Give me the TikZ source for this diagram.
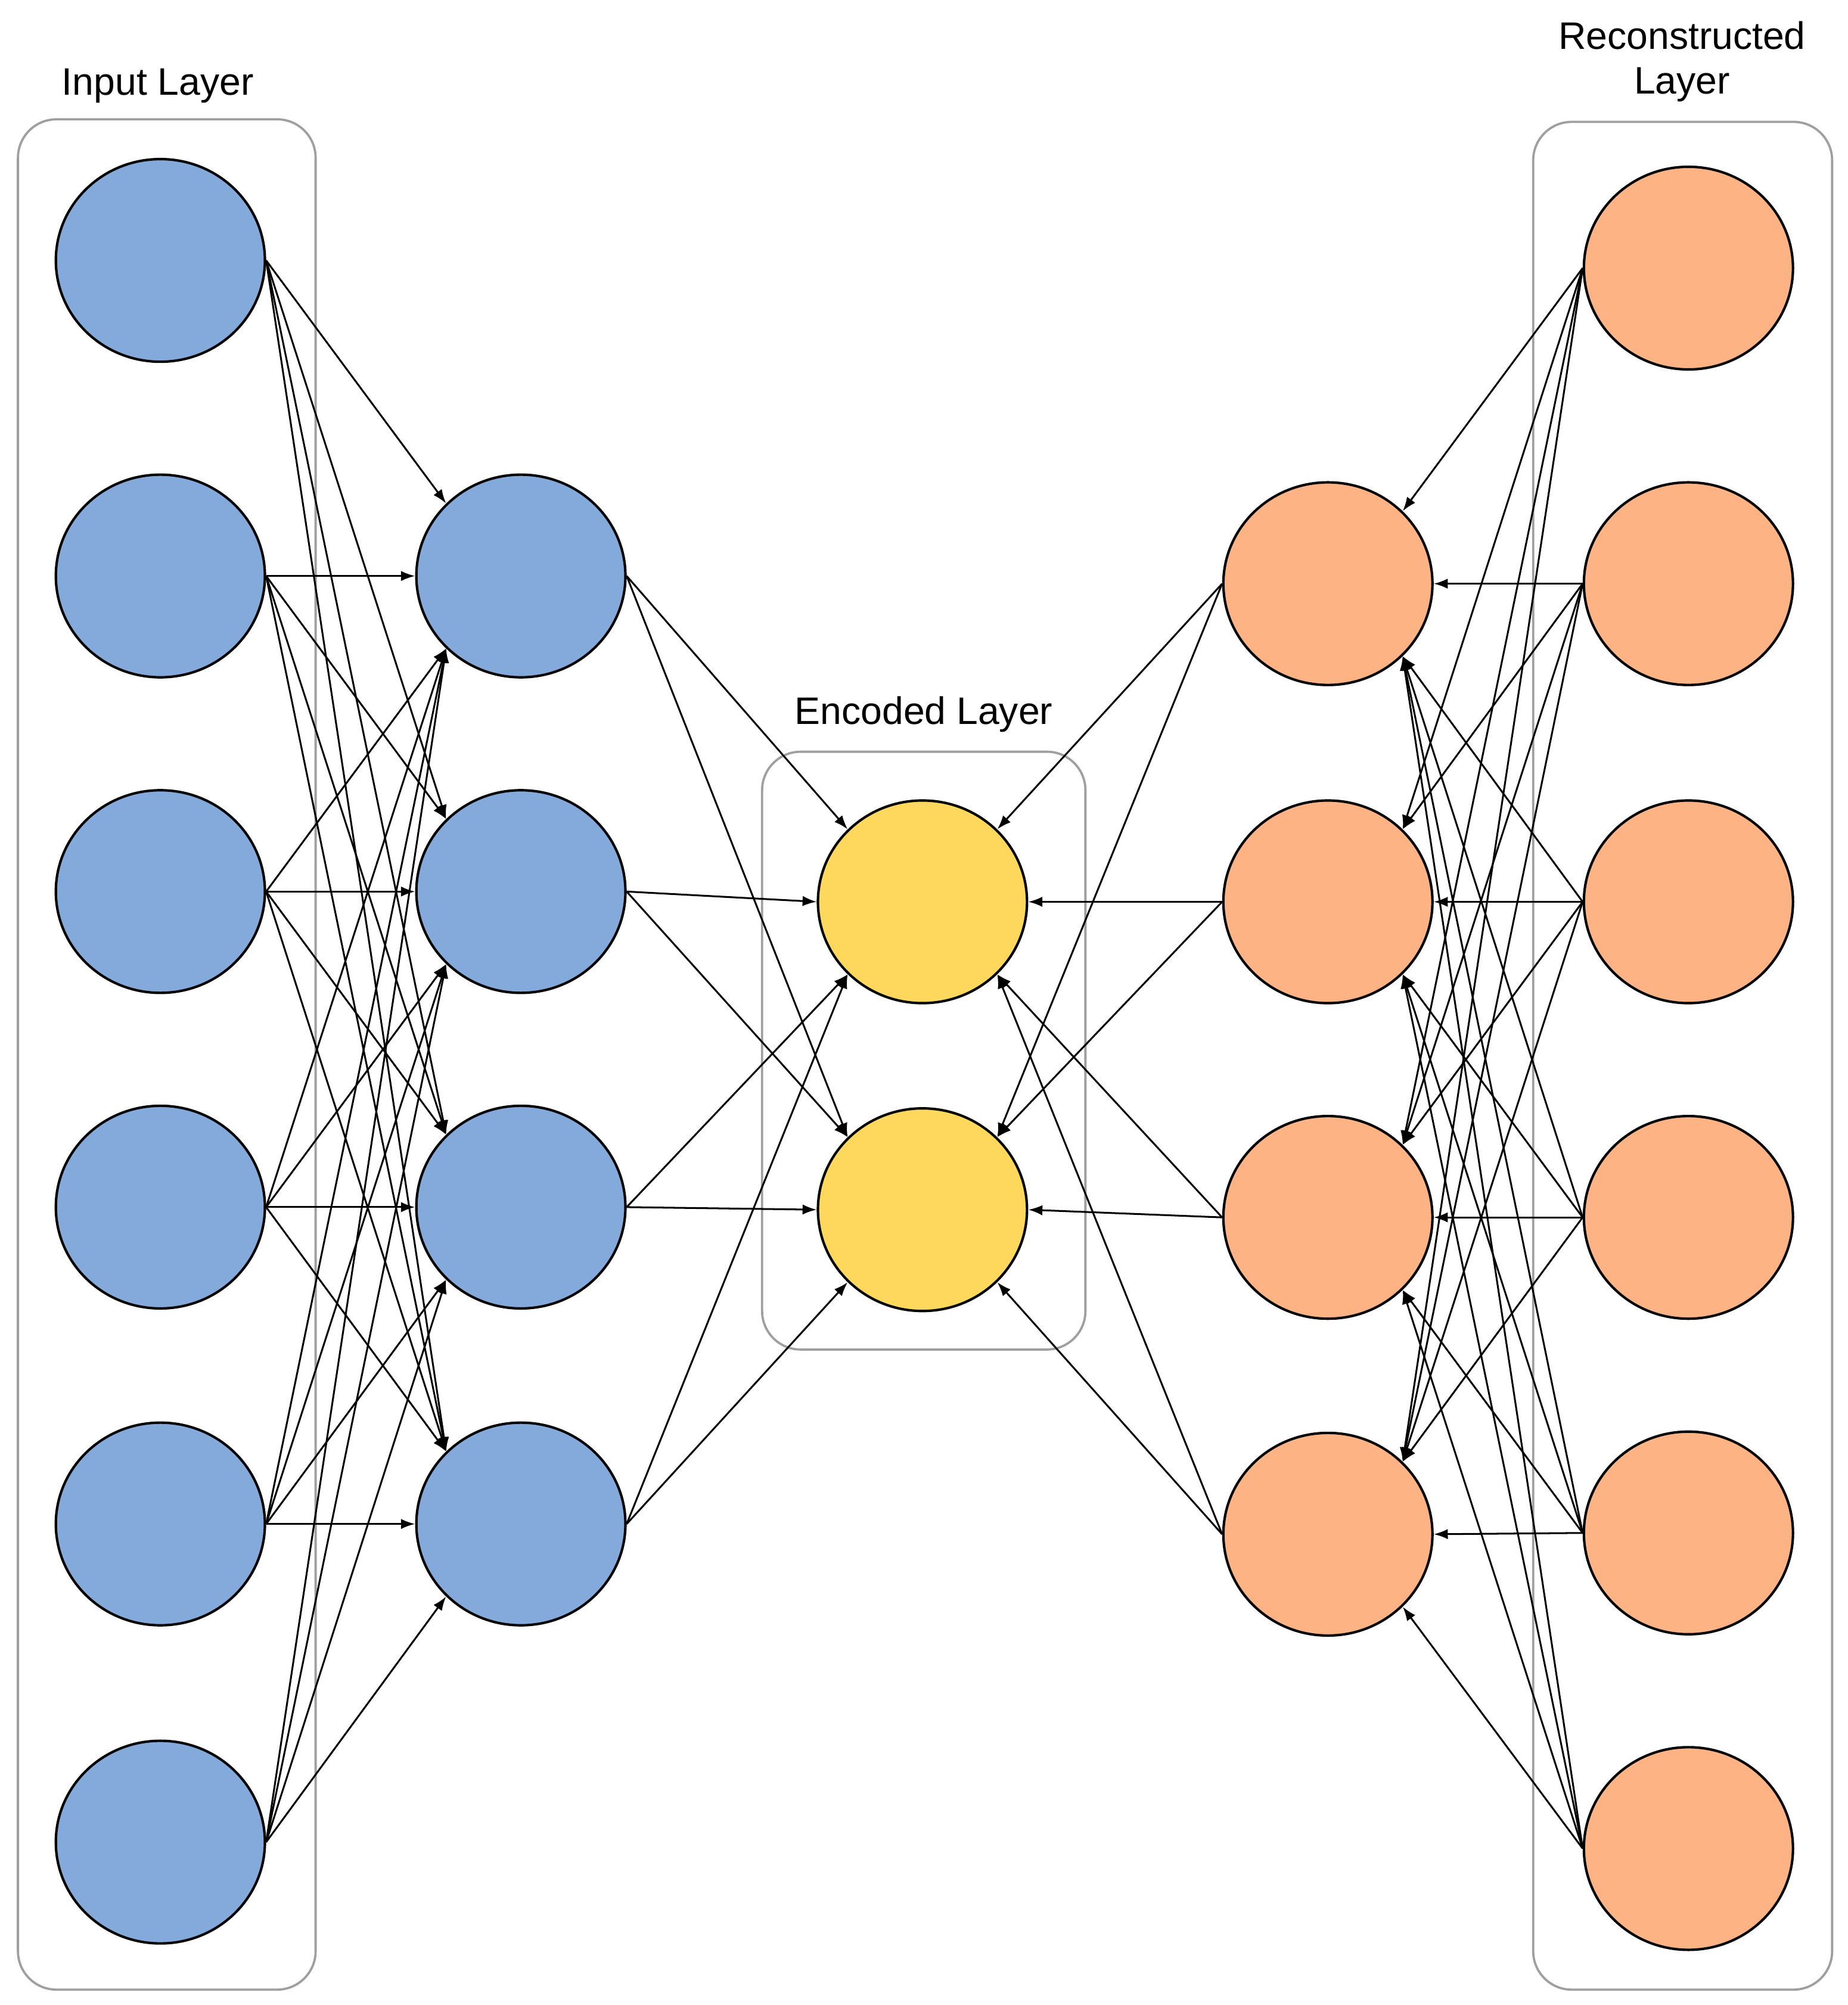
\documentclass[tikz,border=0pt]{standalone}
\usepackage{fontspec}
\setmainfont{Liberation Sans}
\usetikzlibrary{shapes.geometric,arrows.meta}
\definecolor{cblue}{HTML}{84AADC}
\definecolor{cyel}{HTML}{FDD85D}
\definecolor{corg}{HTML}{FDB384}
\newcommand\pickanc[3]{% dy, side, result
  \pgfmathsetmacro\mydy{#1}%
  \ifdim \mydy pt > 20pt \edef#3{north #2}\else\ifdim \mydy pt < -20pt \edef#3{south #2}\else\edef#3{#2}\fi\fi}
\begin{document}
\begin{tikzpicture}[x=0.02cm,y=-0.02cm,
  neu/.style={ellipse,draw=black,line width=1.1pt,minimum width=3.26cm,minimum height=3.16cm,inner sep=0pt},
  box/.style={draw=gray!75,line width=1pt,rounded corners=0.6cm},
  con/.style={line width=0.8pt,-{Latex[length=0.22cm,width=0.16cm]}},
  lab/.style={font=\fontsize{17}{20}\selectfont,align=center}]
\useasboundingbox (0,0) rectangle (1440,1563);
\draw[box] (14,93) rectangle (246,1551);
\draw[box] (594,586) rectangle (846,1052);
\draw[box] (1195,95) rectangle (1428,1551);
\node[lab] (tin) at (123,67) {Input Layer};
\node[lab] (tenc) at (720,557) {Encoded Layer};
\node[lab] (trec) at (1311,48) {Reconstructed\\Layer};
\foreach \i/\y in {1/203,2/449,3/695,4/941,5/1188,6/1436} \node[neu,fill=cblue] (i\i) at (125,\y) {};
\foreach \i/\y in {1/449,2/695,3/941,4/1188} \node[neu,fill=cblue] (h\i) at (406,\y) {};
\foreach \i/\y in {1/703,2/943} \node[neu,fill=cyel] (e\i) at (719,\y) {};
\foreach \i/\y in {1/455,2/703,3/949,4/1196} \node[neu,fill=corg] (d\i) at (1035,\y) {};
\foreach \i/\y in {1/209,2/455,3/703,4/949,5/1195,6/1441} \node[neu,fill=corg] (o\i) at (1316,\y) {};
\foreach \a/\ya in {1/203,2/449,3/695,4/941,5/1188,6/1436} \foreach \b/\yb in {1/449,2/695,3/941,4/1188} {
  \pickanc{\yb-\ya}{west}{\anc}\draw[con] (i\a.east) -- (h\b.\anc);}
\foreach \a/\ya in {1/449,2/695,3/941,4/1188} \foreach \b/\yb in {1/703,2/943} {
  \pickanc{\yb-\ya}{west}{\anc}\draw[con] (h\a.east) -- (e\b.\anc);}
\foreach \a/\ya in {1/209,2/455,3/703,4/949,5/1195,6/1441} \foreach \b/\yb in {1/455,2/703,3/949,4/1196} {
  \pickanc{\yb-\ya}{east}{\anc}\draw[con] (o\a.west) -- (d\b.\anc);}
\foreach \a/\ya in {1/455,2/703,3/949,4/1196} \foreach \b/\yb in {1/703,2/943} {
  \pickanc{\yb-\ya}{east}{\anc}\draw[con] (d\a.west) -- (e\b.\anc);}
\end{tikzpicture}
\end{document}
